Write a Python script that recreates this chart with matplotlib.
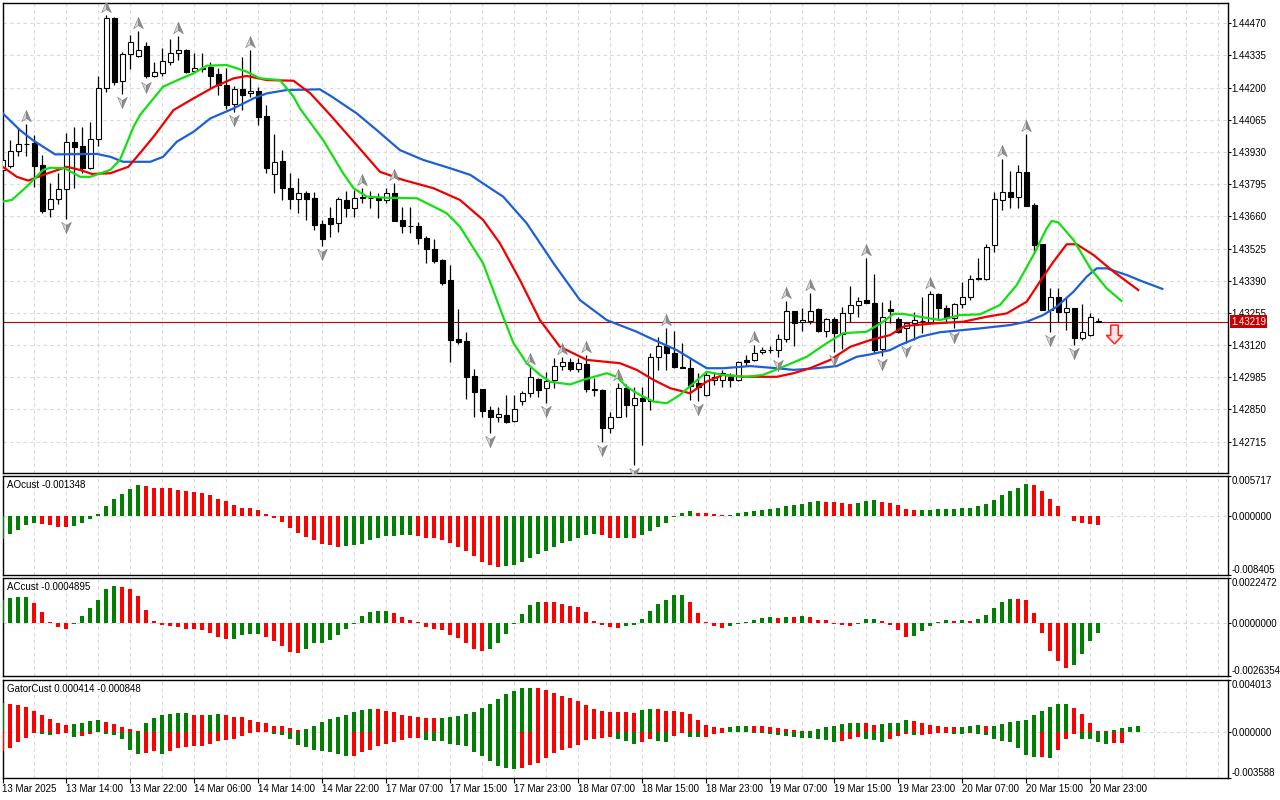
import numpy as np
import matplotlib
matplotlib.use("Agg")
import matplotlib.pyplot as plt
from matplotlib.path import Path

# H1 candles (bar 0 = 13 Mar 06:00)
open_ = [1.43855, 1.43871, 1.43936, 1.43962, 1.43967, 1.43876, 1.43690, 1.43732, 1.43774, 1.43971,
         1.43955, 1.43862, 1.43983, 1.44197, 1.44491, 1.44228, 1.44340, 1.44333, 1.44375, 1.44249,
         1.44260, 1.44309, 1.44344, 1.44358, 1.44271, 1.44281, 1.44288, 1.44257, 1.44211, 1.44131,
         1.44193, 1.44179, 1.44186, 1.44081, 1.43837, 1.43892, 1.43778, 1.43733, 1.43757, 1.43736,
         1.43628, 1.43652, 1.43634, 1.43729, 1.43694, 1.43738, 1.43736, 1.43736, 1.43729, 1.43757,
         1.43645, 1.43620, 1.43620, 1.43568, 1.43522, 1.43477, 1.43393, 1.43146, 1.43139, 1.42990,
         1.42935, 1.42848, 1.42820, 1.42827, 1.42803, 1.42887, 1.42918, 1.42979, 1.42939, 1.42974,
         1.43032, 1.43049, 1.43019, 1.43041, 1.42935, 1.42932, 1.42771, 1.42820, 1.42939, 1.42869,
         1.42897, 1.42887, 1.43071, 1.43116, 1.43086, 1.43027, 1.43023, 1.42960, 1.42911, 1.42974,
         1.42974, 1.42988, 1.42974, 1.43058, 1.43058, 1.43092, 1.43099, 1.43099, 1.43144, 1.43263,
         1.43218, 1.43222, 1.43270, 1.43180, 1.43228, 1.43167, 1.43253, 1.43288, 1.43309, 1.43295,
         1.43102, 1.43271, 1.43228, 1.43192, 1.43211, 1.43221, 1.43218, 1.43333, 1.43277, 1.43235,
         1.43291, 1.43323, 1.43400, 1.43397, 1.43540, 1.43727, 1.43761, 1.43742, 1.43845, 1.43708,
         1.43543, 1.43267, 1.43323, 1.43260, 1.43277, 1.43151, 1.43162, 1.43222]
high = [1.43938, 1.43980, 1.44031, 1.44047, 1.44001, 1.43917, 1.43801, 1.43841, 1.44011, 1.44036,
        1.44036, 1.44055, 1.44249, 1.44505, 1.44495, 1.44351, 1.44421, 1.44438, 1.44393, 1.44309,
        1.44365, 1.44403, 1.44417, 1.44361, 1.44344, 1.44344, 1.44309, 1.44281, 1.44281, 1.44207,
        1.44327, 1.44358, 1.44204, 1.44127, 1.44006, 1.43938, 1.43841, 1.43820, 1.43768, 1.43764,
        1.43645, 1.43701, 1.43741, 1.43768, 1.43771, 1.43779, 1.43766, 1.43759, 1.43779, 1.43799,
        1.43698, 1.43698, 1.43638, 1.43578, 1.43564, 1.43480, 1.43456, 1.43270, 1.43176, 1.43019,
        1.42935, 1.42865, 1.42862, 1.42911, 1.42911, 1.42929, 1.43027, 1.42983, 1.43008, 1.43065,
        1.43069, 1.43065, 1.43065, 1.43079, 1.42981, 1.42935, 1.42841, 1.42960, 1.42955, 1.42946,
        1.42946, 1.43086, 1.43155, 1.43190, 1.43179, 1.43130, 1.43065, 1.43004, 1.43011, 1.43008,
        1.43016, 1.43004, 1.43055, 1.43079, 1.43120, 1.43113, 1.43116, 1.43167, 1.43305, 1.43263,
        1.43274, 1.43340, 1.43274, 1.43232, 1.43237, 1.43281, 1.43368, 1.43320, 1.43484, 1.43418,
        1.43301, 1.43309, 1.43239, 1.43218, 1.43260, 1.43323, 1.43347, 1.43337, 1.43288, 1.43295,
        1.43386, 1.43414, 1.43484, 1.43543, 1.43764, 1.43901, 1.43850, 1.43876, 1.44004, 1.43715,
        1.43544, 1.43358, 1.43358, 1.43323, 1.43277, 1.43291, 1.43253, 1.43232]
low = [1.43834, 1.43863, 1.43913, 1.43913, 1.43784, 1.43673, 1.43659, 1.43712, 1.43650, 1.43778,
       1.43843, 1.43858, 1.43955, 1.44183, 1.44211, 1.44175, 1.44277, 1.44329, 1.44239, 1.44243,
       1.44249, 1.44295, 1.44316, 1.44263, 1.44263, 1.44266, 1.44193, 1.44169, 1.44109, 1.44099,
       1.44106, 1.44162, 1.44043, 1.43841, 1.43757, 1.43729, 1.43690, 1.43673, 1.43645, 1.43603,
       1.43536, 1.43575, 1.43596, 1.43659, 1.43659, 1.43715, 1.43695, 1.43652, 1.43715, 1.43642,
       1.43592, 1.43592, 1.43543, 1.43466, 1.43463, 1.43372, 1.43050, 1.43125, 1.42893, 1.42817,
       1.42817, 1.42750, 1.42799, 1.42792, 1.42799, 1.42869, 1.42904, 1.42904, 1.42876, 1.42939,
       1.43016, 1.43013, 1.43008, 1.42925, 1.42907, 1.42715, 1.42750, 1.42820, 1.42820, 1.42617,
       1.42701, 1.42848, 1.43016, 1.43016, 1.43023, 1.43023, 1.42890, 1.42886, 1.42907, 1.42953,
       1.42946, 1.42946, 1.42971, 1.43032, 1.43055, 1.43083, 1.43087, 1.43070, 1.43134, 1.43116,
       1.43180, 1.43209, 1.43176, 1.43155, 1.43091, 1.43102, 1.43218, 1.43239, 1.43295, 1.43086,
       1.43074, 1.43213, 1.43170, 1.43128, 1.43141, 1.43170, 1.43217, 1.43225, 1.43211, 1.43190,
       1.43274, 1.43309, 1.43393, 1.43393, 1.43509, 1.43687, 1.43696, 1.43696, 1.43705, 1.43509,
       1.43267, 1.43176, 1.43218, 1.43183, 1.43120, 1.43141, 1.43159, 1.43218]
close = [1.43896, 1.43936, 1.43962, 1.43964, 1.43873, 1.43683, 1.43732, 1.43774, 1.43971, 1.43952,
         1.43864, 1.43983, 1.44197, 1.44491, 1.44225, 1.44341, 1.44393, 1.44358, 1.44249, 1.44264,
         1.44312, 1.44344, 1.44358, 1.44267, 1.44281, 1.44280, 1.44249, 1.44211, 1.44127, 1.44193,
         1.44169, 1.44186, 1.44078, 1.43864, 1.43889, 1.43778, 1.43732, 1.43757, 1.43732, 1.43624,
         1.43564, 1.43628, 1.43732, 1.43694, 1.43736, 1.43740, 1.43736, 1.43729, 1.43757, 1.43642,
         1.43620, 1.43618, 1.43568, 1.43522, 1.43474, 1.43382, 1.43141, 1.43134, 1.42988, 1.42925,
         1.42845, 1.42820, 1.42831, 1.42799, 1.42851, 1.42918, 1.42988, 1.42932, 1.42971, 1.43032,
         1.43049, 1.43019, 1.43044, 1.42935, 1.42933, 1.42771, 1.42820, 1.42939, 1.42869, 1.42897,
         1.42887, 1.43071, 1.43116, 1.43086, 1.43027, 1.43025, 1.42948, 1.42946, 1.42995, 1.42988,
         1.43002, 1.42974, 1.43050, 1.43050, 1.43088, 1.43099, 1.43098, 1.43144, 1.43263, 1.43214,
         1.43225, 1.43264, 1.43180, 1.43228, 1.43170, 1.43253, 1.43288, 1.43306, 1.43295, 1.43099,
         1.43237, 1.43263, 1.43176, 1.43211, 1.43225, 1.43220, 1.43333, 1.43277, 1.43235, 1.43291,
         1.43323, 1.43397, 1.43396, 1.43533, 1.43732, 1.43761, 1.43742, 1.43845, 1.43705, 1.43540,
         1.43267, 1.43323, 1.43260, 1.43277, 1.43151, 1.43176, 1.43237, 1.43219]

# alligator lines (already shifted forward), sampled along each curve
jaw_x = [0.05, 2.2, 3.8, 6.6, 11.8, 13.5, 15.1, 18.5, 20.1, 21.8, 23.9, 26.0, 28.9, 31.4, 33.05,
         35.55, 39.7, 41.2, 44.3, 46.8, 49.7, 52.6, 55.97, 58.5, 61.0, 62.6, 65.55, 68.9, 72.2, 75.55,
         79.3, 81.0, 84.3, 88.05, 90.1, 93.5, 96.8, 98.9, 101.8, 104.3, 106.8, 108.5, 110.96, 112.2,
         114.7, 117.2, 122.2, 125.96, 128.05, 130.1, 131.8, 133.9, 135.55, 136.8, 138.05, 140.55,
         142.6, 145.0]
jaw = [1.44092, 1.44022, 1.43980, 1.43920, 1.43922, 1.43910, 1.43889, 1.43889, 1.43910, 1.43973,
       1.44015, 1.44071, 1.44113, 1.44155, 1.44176, 1.44190, 1.44193, 1.44162, 1.44092, 1.44022,
       1.43938, 1.43897, 1.43862, 1.43834, 1.43778, 1.43743, 1.43631, 1.43463, 1.43309, 1.43225,
       1.43176, 1.43149, 1.43099, 1.43023, 1.43023, 1.43032, 1.43023, 1.43016, 1.43023, 1.43032,
       1.43071, 1.43081, 1.43099, 1.43120, 1.43155, 1.43174, 1.43190, 1.43204, 1.43218, 1.43246,
       1.43281, 1.43344, 1.43407, 1.43442, 1.43442, 1.43414, 1.43386, 1.43356]
teeth_x = [0.05, 1.8, 3.25, 5.1, 8.05, 9.7, 11.2, 13.5, 15.75, 17.2, 18.9, 21.4, 23.9, 26.4, 28.9,
           30.55, 33.05, 36.4, 38.5, 41.0, 44.3, 47.2, 50.1, 53.9, 57.2, 60.1, 62.2, 64.7, 67.2,
           69.7, 73.05, 77.2, 79.3, 81.4, 83.5, 85.96, 88.05, 90.1, 92.6, 96.8, 98.9, 100.96, 103.5,
           106.0, 108.5, 110.96, 112.8, 116.4, 120.1, 123.05, 125.55, 128.05, 129.7, 131.4, 133.05,
           134.3, 136.4, 138.9, 142.0]
teeth = [1.43868, 1.43826, 1.43810, 1.43834, 1.43868, 1.43855, 1.43838, 1.43841, 1.43868, 1.43925,
         1.43994, 1.44106, 1.44155, 1.44202, 1.44239, 1.44249, 1.44232, 1.44229, 1.44176, 1.44085,
         1.43959, 1.43847, 1.43813, 1.43778, 1.43729, 1.43645, 1.43547, 1.43393, 1.43225, 1.43113,
         1.43058, 1.43044, 1.43016, 1.42974, 1.42939, 1.42918, 1.42967, 1.42995, 1.42987, 1.42987,
         1.43002, 1.43023, 1.43058, 1.43113, 1.43141, 1.43162, 1.43200, 1.43211, 1.43218, 1.43239,
         1.43253, 1.43302, 1.43386, 1.43470, 1.43543, 1.43543, 1.43498, 1.43428, 1.43351]
lips_x = [0.05, 1.2, 3.05, 5.1, 6.0, 7.8, 9.7, 11.0, 13.5, 14.7, 16.4, 17.2, 20.1, 22.2, 23.9,
          25.55, 28.05, 30.55, 32.2, 34.7, 36.4, 37.2, 40.1, 42.6, 43.9, 45.55, 48.05, 51.8, 53.5,
          55.55, 57.2, 60.1, 62.6, 63.9, 65.55, 67.2, 68.5, 71.0, 72.6, 75.55, 76.8, 78.05, 79.7,
          81.4, 83.05, 84.7, 86.4, 88.05, 90.1, 93.05, 95.1, 97.6, 100.55, 103.05, 105.1, 108.05,
          110.1, 111.4, 112.6, 114.7, 117.2, 119.7, 122.2, 124.7, 126.8, 128.9, 130.55, 131.2,
          132.0, 133.9, 136.0, 138.05, 139.9]
lips = [1.43722, 1.43729, 1.43785, 1.43855, 1.43864, 1.43862, 1.43826, 1.43826, 1.43855, 1.43897,
        1.44036, 1.44085, 1.44204, 1.44236, 1.44260, 1.44292, 1.44295, 1.44267, 1.44239, 1.44232,
        1.44162, 1.44113, 1.43980, 1.43841, 1.43778, 1.43743, 1.43738, 1.43736, 1.43708, 1.43673,
        1.43617, 1.43463, 1.43239, 1.43128, 1.43044, 1.42995, 1.42966, 1.42955, 1.42974, 1.43002,
        1.42987, 1.42945, 1.42911, 1.42883, 1.42876, 1.42911, 1.42960, 1.43008, 1.42995, 1.42987,
        1.42995, 1.43029, 1.43071, 1.43128, 1.43170, 1.43176, 1.43218, 1.43251, 1.43251, 1.43239,
        1.43225, 1.43246, 1.43249, 1.43288, 1.43372, 1.43498, 1.43610, 1.43641, 1.43635, 1.43561,
        1.43442, 1.43358, 1.43305]

fractal_up = [3, 13, 17, 22, 31, 45, 49, 66, 70, 73, 77, 83, 94, 98, 101, 108, 116, 125, 128]
fractal_down = [8, 15, 18, 29, 40, 61, 68, 75, 79, 87, 97, 104, 110, 113, 119, 131, 134]
signal_bar, signal_price = 139, 1.43165

ao = [-0.00329, -0.00267, -0.00204, -0.00137, -0.00108, -0.00122, -0.00137, -0.00161, -0.00166, -0.00151,
      -0.00103, -0.00046, 0.00022, 0.00137, 0.00238, 0.00310, 0.00382, 0.00435, 0.00425, 0.00401,
      0.00396, 0.00391, 0.00367, 0.00348, 0.00334, 0.00319, 0.00291, 0.00238, 0.00204, 0.00151,
      0.00118, 0.00113, 0.00079, 0.00022, -0.00026, -0.00089, -0.00180, -0.00252, -0.00305, -0.00348,
      -0.00396, -0.00420, -0.00439, -0.00435, -0.00415, -0.00396, -0.00348, -0.00324, -0.00295, -0.00286,
      -0.00281, -0.00276, -0.00291, -0.00315, -0.00324, -0.00339, -0.00382, -0.00439, -0.00497, -0.00569,
      -0.00656, -0.00699, -0.00728, -0.00723, -0.00699, -0.00656, -0.00598, -0.00540, -0.00497, -0.00439,
      -0.00382, -0.00353, -0.00310, -0.00281, -0.00267, -0.00281, -0.00310, -0.00315, -0.00311, -0.00313,
      -0.00281, -0.00223, -0.00166, -0.00108, -0.00017, 0.00046, 0.00070, 0.00046, 0.00041, 0.00031,
      0.00012, 0.00017, 0.00036, 0.00050, 0.00065, 0.00079, 0.00094, 0.00113, 0.00137, 0.00156,
      0.00166, 0.00199, 0.00209, 0.00195, 0.00190, 0.00180, 0.00175, 0.00180, 0.00214, 0.00219,
      0.00199, 0.00180, 0.00151, 0.00098, 0.00079, 0.00084, 0.00089, 0.00094, 0.00096, 0.00098,
      0.00113, 0.00118, 0.00137, 0.00166, 0.00228, 0.00295, 0.00353, 0.00396, 0.00454, 0.00440,
      0.00353, 0.00238, 0.00137, -0.00002, -0.00074, -0.00103, -0.00122, -0.001348]
ac = [0.00114, 0.00124, 0.00127, 0.00129, 0.00099, 0.00056, 0.00007, -0.00021, -0.00030, -0.00003,
      0.00033, 0.00073, 0.00114, 0.00167, 0.00182, 0.00177, 0.00168, 0.00132, 0.00064, 0.00010,
      -0.00008, -0.00013, -0.00021, -0.00028, -0.00030, -0.00033, -0.00050, -0.00069, -0.00079, -0.00078,
      -0.00059, -0.00056, -0.00053, -0.00069, -0.00087, -0.00114, -0.00142, -0.00149, -0.00129, -0.00101,
      -0.00097, -0.00083, -0.00058, -0.00030, -0.00005, 0.00033, 0.00056, 0.00059, 0.00061, 0.00050,
      0.00028, 0.00015, 0.00005, -0.00018, -0.00030, -0.00035, -0.00059, -0.00074, -0.00099, -0.00129,
      -0.00137, -0.00129, -0.00099, -0.00054, -0.00003, 0.00045, 0.00089, 0.00106, 0.00104, 0.00103,
      0.00094, 0.00084, 0.00079, 0.00054, 0.00010, -0.00010, -0.00018, -0.00025, -0.00013, -0.00008,
      0.00020, 0.00059, 0.00094, 0.00114, 0.00137, 0.00139, 0.00104, 0.00050, 0.00005, -0.00013,
      -0.00023, -0.00013, -0.00007, 0.00005, 0.00017, 0.00025, 0.00028, 0.00026, 0.00031, 0.00028,
      0.00033, 0.00031, 0.00017, 0.00015, -0.00003, -0.00010, -0.00013, -0.00003, 0.00018, 0.00020,
      0.00008, -0.00010, -0.00035, -0.00068, -0.00063, -0.00038, -0.00013, 0.00003, 0.00015, 0.00010,
      0.00017, 0.00010, 0.00018, 0.00040, 0.00074, 0.00104, 0.00119, 0.00117, 0.00112, 0.00050,
      -0.00048, -0.00137, -0.00187, -0.00221, -0.00208, -0.00152, -0.00087, -0.0004895]
gator_up = [0.00221, 0.00216, 0.00208, 0.00193, 0.00162, 0.00131, 0.00100, 0.00069, 0.00054, 0.00057,
            0.00064, 0.00085, 0.00093, 0.00077, 0.00057, 0.00036, 0.00021, 0.00008, 0.00064, 0.00108,
            0.00131, 0.00136, 0.00141, 0.00146, 0.00128, 0.00126, 0.00131, 0.00134, 0.00131, 0.00116,
            0.00110, 0.00090, 0.00077, 0.00067, 0.00046, 0.00044, 0.00030, 0.00012, 0.00022, 0.00046,
            0.00077, 0.00100, 0.00116, 0.00131, 0.00154, 0.00167, 0.00177, 0.00175, 0.00162, 0.00149,
            0.00131, 0.00121, 0.00113, 0.00105, 0.00103, 0.00105, 0.00113, 0.00123, 0.00139, 0.00152,
            0.00182, 0.00216, 0.00254, 0.00293, 0.00316, 0.00337, 0.00339, 0.00337, 0.00324, 0.00301,
            0.00278, 0.00260, 0.00239, 0.00203, 0.00177, 0.00159, 0.00154, 0.00152, 0.00149, 0.00148,
            0.00170, 0.00177, 0.00175, 0.00162, 0.00159, 0.00154, 0.00139, 0.00093, 0.00054, 0.00036,
            0.00028, 0.00036, 0.00041, 0.00046, 0.00044, 0.00041, 0.00036, 0.00028, 0.00020, 0.00013,
            0.00008, 0.00005, 0.00018, 0.00036, 0.00046, 0.00062, 0.00069, 0.00070, 0.00069, 0.00054,
            0.00062, 0.00064, 0.00069, 0.00093, 0.00085, 0.00069, 0.00054, 0.00046, 0.00039, 0.00038,
            0.00039, 0.00046, 0.00054, 0.00044, 0.00046, 0.00062, 0.00077, 0.00080, 0.00093, 0.00126,
            0.00162, 0.00193, 0.00211, 0.00216, 0.00182, 0.00139, 0.00067, 0.00005, 0.00002, 0.00013,
            0.00028, 0.00036, 0.000414]
gator_down = [-0.00149, -0.00123, -0.00082, -0.00046, -0.00008, -0.00015, -0.00028, -0.00015, -0.00010, -0.00039,
              -0.00036, -0.00015, -0.00005, -0.00015, -0.00023, -0.00059, -0.00139, -0.00175, -0.00162, -0.00152,
              -0.00170, -0.00152, -0.00123, -0.00118, -0.00113, -0.00110, -0.00098, -0.00075, -0.00067, -0.00054,
              -0.00031, -0.00008, -0.00005, -0.00004, -0.00015, -0.00026, -0.00054, -0.00105, -0.00121, -0.00139,
              -0.00152, -0.00159, -0.00170, -0.00185, -0.00184, -0.00154, -0.00139, -0.00113, -0.00093, -0.00077,
              -0.00062, -0.00051, -0.00049, -0.00067, -0.00068, -0.00075, -0.00098, -0.00105, -0.00113, -0.00159,
              -0.00190, -0.00229, -0.00267, -0.00283, -0.00290, -0.00283, -0.00260, -0.00237, -0.00206, -0.00167,
              -0.00144, -0.00129, -0.00105, -0.00067, -0.00054, -0.00046, -0.00044, -0.00054, -0.00075, -0.00098,
              -0.00082, -0.00059, -0.00075, -0.00077, -0.00036, -0.00010, -0.00041, -0.00044, -0.00040, -0.00018,
              -0.00008, -0.00003, -0.00005, -0.00004, -0.00008, -0.00010, -0.00018, -0.00023, -0.00031, -0.00039,
              -0.00046, -0.00051, -0.00057, -0.00067, -0.00082, -0.00075, -0.00059, -0.00044, -0.00059, -0.00067,
              -0.00082, -0.00059, -0.00031, -0.00018, -0.00028, -0.00023, -0.00015, -0.00010, -0.00008, -0.00015,
              -0.00018, -0.00010, -0.00015, -0.00028, -0.00059, -0.00072, -0.00082, -0.00123, -0.00177, -0.00198,
              -0.00196, -0.00200, -0.00144, -0.00054, -0.00015, -0.00054, -0.00059, -0.00082, -0.00092, -0.00090,
              -0.000848]

price_ticks = [1.42715, 1.42850, 1.42985, 1.43120, 1.43255, 1.43390, 1.43525, 1.43660, 1.43795,
               1.43930, 1.44065, 1.44200, 1.44335, 1.44470]
price_range = (1.425847, 1.445564)
ao_range = (-0.008405, 0.005717)
ac_range = (-0.0026354, 0.0022472)
gator_range = (-0.003588, 0.004013)
label_bars = [0, 8, 16, 24, 32, 40, 48, 56, 64, 72, 80, 88, 96, 104, 112, 120, 128, 136]
time_labels = ["13 Mar 2025", "13 Mar 14:00", "13 Mar 22:00", "14 Mar 06:00", "14 Mar 14:00",
               "14 Mar 22:00", "17 Mar 07:00", "17 Mar 15:00", "17 Mar 23:00", "18 Mar 07:00",
               "18 Mar 15:00", "18 Mar 23:00", "19 Mar 07:00", "19 Mar 15:00", "19 Mar 23:00",
               "20 Mar 07:00", "20 Mar 15:00", "20 Mar 23:00"]

GREEN = "#008000"
RED = "#FF0000"
GRID = "#D9D9D9"
DASH = (0, (3, 3))
FS = 7

plt.rcParams["font.family"] = ["Liberation Sans", "DejaVu Sans"]
plt.rcParams["font.size"] = FS

fig = plt.figure(figsize=(12.8, 8), dpi=100)


def panel(top, bottom):
    # panel rows given in pixels of the 1280x800 picture
    return fig.add_axes([2.5 / 1280, 1 - bottom / 800, 1225 / 1280, (bottom - top) / 800])


ax = panel(2.7, 472.7)
ax_ao = panel(475.7, 574.7)
ax_ac = panel(577.7, 676.3)
ax_gt = panel(679.7, 778.3)

for a in (ax, ax_ao, ax_ac, ax_gt):
    a.set_xlim(0.02, 153.15)
    for s in a.spines.values():
        s.set_linewidth(1.0)
        s.set_color("black")
    a.yaxis.tick_right()
    a.tick_params(axis="y", length=2.2, width=0.8, pad=0.8, labelsize=FS)
    a.set_xticks([])
    for gx in range(4, 154, 4):
        a.axvline(gx, color=GRID, lw=0.8, ls=DASH, zorder=0)

# ---- main price panel ----
o, h, l, c = (np.array(v) for v in (open_, high, low, close))
x = np.arange(len(c))
for p in price_ticks:
    ax.axhline(p, color=GRID, lw=0.8, ls=DASH, zorder=0)
ax.axhline(c[-1], color="#C00000", lw=0.8, zorder=2)

ax.vlines(x, l, h, color="black", lw=0.9, zorder=3)
bull = c > o
ax.bar(x, np.maximum(np.abs(c - o), 0.00002), bottom=np.minimum(o, c), width=0.6,
       color=np.where(bull, "white", "black"), edgecolor="black", lw=0.8, zorder=4)

ax.plot(jaw_x, jaw, color="#1D5FD7", lw=1.6, zorder=5)
ax.plot(teeth_x, teeth, color="#F00000", lw=1.6, zorder=5)
ax.plot(lips_x, lips, color="#11E011", lw=1.6, zorder=5)

# fractal arrowheads: light left half, dark right half
codes = [Path.MOVETO, Path.LINETO, Path.LINETO, Path.CLOSEPOLY]
left_half = [(0, 1), (0, -0.15), (-0.7, -0.6), (0, 1)]
right_half = [(0, 1), (0.7, -0.6), (0, -0.15), (0, 1)]
fu = np.array(fractal_up)
fd = np.array(fractal_down)
for verts, shade in ((left_half, "#D6D6D6"), (right_half, "#8C8C8C")):
    up_m = Path(verts, codes)
    dn_m = Path([(vx, -vy) for vx, vy in verts], codes)
    ax.plot(fu, h[fu] + 0.0003, ls="none", marker=up_m, ms=10, mfc=shade, mec="#7A7A7A",
            mew=0.4, zorder=6)
    ax.plot(fd, l[fd] - 0.0003, ls="none", marker=dn_m, ms=10, mfc=shade, mec="#7A7A7A",
            mew=0.4, zorder=6)

sig_arrow = Path([(-0.4, 1), (0.4, 1), (0.4, -0.1), (0.85, -0.1), (0, -1), (-0.85, -0.1),
                  (-0.4, -0.1), (-0.4, 1)],
                 [Path.MOVETO] + [Path.LINETO] * 6 + [Path.CLOSEPOLY])
ax.plot([signal_bar], [signal_price], ls="none", marker=sig_arrow, ms=13.5, mfc="#FFE4E4",
        mec="#FF2020", mew=1.1, zorder=6)

ax.set_ylim(*price_range)
ax.set_yticks(price_ticks)
ax.set_yticklabels([f"{p:.5f}" for p in price_ticks])
ax.annotate(f"{c[-1]:.5f}", xy=(1, c[-1]), xycoords=("axes fraction", "data"),
            xytext=(2.5, 0), textcoords="offset points", ha="left", va="center",
            color="white", fontsize=FS, annotation_clip=False, zorder=10,
            bbox=dict(boxstyle="square,pad=0.12", fc="#C80000", ec="none"))


def scale_ticks(a, rng, digits):
    a.set_ylim(*rng)
    a.set_yticks([rng[0], 0, rng[1]])
    a.set_yticklabels([f"{v:.{digits}f}" for v in (rng[0], 0, rng[1])])
    ticks = a.yaxis.get_major_ticks()
    ticks[0].label2.set_va("bottom")
    ticks[-1].label2.set_va("top")
    a.axhline(0, color=GRID, lw=0.8, ls=DASH, zorder=1)


def histogram(a, values, first_green, by_size=False):
    v = np.array(values)
    mag = np.abs(v) if by_size else v
    rising = np.r_[first_green, mag[1:] > mag[:-1]]
    a.bar(np.arange(len(v)), v, width=0.5, color=np.where(rising, GREEN, RED), lw=0, zorder=3)


def title(a, text):
    a.annotate(text, xy=(0, 1), xycoords="axes fraction", xytext=(3, -3),
               textcoords="offset points", ha="left", va="top", fontsize=FS, zorder=10)


# ---- AO ----
histogram(ax_ao, ao, True)
scale_ticks(ax_ao, ao_range, 6)
title(ax_ao, f"AOcust {ao[-1]:.6f}")

# ---- AC ----
histogram(ax_ac, ac, True)
scale_ticks(ax_ac, ac_range, 7)
title(ax_ac, f"ACcust {ac[-1]:.7f}")

# ---- Gator ----
histogram(ax_gt, gator_up, True)
histogram(ax_gt, gator_down, False, by_size=True)
scale_ticks(ax_gt, gator_range, 6)
title(ax_gt, f"GatorCust {gator_up[-1]:.6f} {gator_down[-1]:.6f}")

ax_gt.set_xticks(label_bars)
ax_gt.set_xticklabels(time_labels, ha="left")
ax_gt.tick_params(axis="x", length=3.5, width=0.8, pad=0.8, labelsize=FS)

fig.savefig("out.png", dpi=100)
